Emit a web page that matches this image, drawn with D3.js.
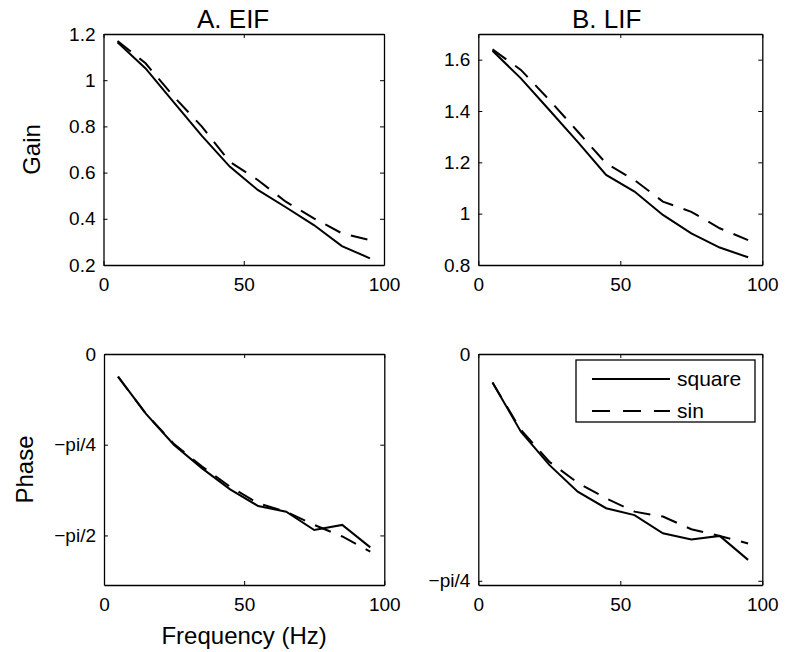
<!DOCTYPE html>
<html>
  <head>
    <meta charset="utf-8" />
    <title>EIF / LIF gain and phase</title>
    <script src="https://d3js.org/d3.v7.min.js"></script>
    <style>
      body {
        margin: 0;
        background: #fff;
        font-family: "Liberation Sans", Arial, sans-serif;
      }
      svg {
        display: block;
      }
    </style>
  </head>
  <body>
    <svg width="785" height="652"></svg>

    <script>
      // data (frequency in Hz)
      const freqs = [5, 15, 25, 35, 45, 55, 65, 75, 85, 95];

      const eifGainSquare = [1.164, 1.051, 0.905, 0.76, 0.626, 0.525, 0.45, 0.373, 0.282, 0.229];
      const eifGainSin = [1.17, 1.073, 0.93, 0.8, 0.647, 0.568, 0.474, 0.402, 0.337, 0.308];

      const lifGainSquare = [1.635, 1.527, 1.404, 1.28, 1.151, 1.086, 0.995, 0.923, 0.868, 0.83];
      const lifGainSin = [1.64, 1.56, 1.443, 1.32, 1.196, 1.131, 1.047, 1.007, 0.943, 0.897];

      const eifPhaseSquare = [-0.196, -0.519, -0.788, -0.99, -1.172, -1.316, -1.365, -1.524, -1.48, -1.674];
      const eifPhaseSin = [-0.196, -0.519, -0.78, -0.975, -1.149, -1.293, -1.365, -1.48, -1.58, -1.711];

      const lifPhaseSquare = [-0.099, -0.269, -0.384, -0.477, -0.534, -0.558, -0.621, -0.642, -0.63, -0.713];
      const lifPhaseSin = [-0.099, -0.263, -0.373, -0.446, -0.5, -0.546, -0.563, -0.607, -0.63, -0.656];

      const xTicks = [0, 50, 100];
      const phaseTicks = [0, -Math.PI / 4, -Math.PI / 2];
      const phaseTickLabels = ["0", "\u2212pi/4", "\u2212pi/2"];
      const seriesNames = ["square", "sin"];

      const svg = d3.select("svg");
      const tickFont = 19;
      const labelFont = 24;

      const panels = [
        { x0: 103.5, x1: 384, y0: 34, y1: 265, yDom: [0.2, 1.2], yTicks: [0.2, 0.4, 0.6, 0.8, 1, 1.2],
          fmt: d3.format("~g"), series: [eifGainSquare, eifGainSin], title: "A. EIF", titleX: 197, ylabel: "Gain", ylabelX: 40 },
        { x0: 478.3, x1: 762.3, y0: 34, y1: 265, yDom: [0.8, 1.7], yTicks: [0.8, 1, 1.2, 1.4, 1.6],
          fmt: d3.format("~g"), series: [lifGainSquare, lifGainSin], title: "B. LIF", titleX: 572 },
        { x0: 104, x1: 384.3, y0: 354, y1: 585, yDom: [-2, 0], yTicks: phaseTicks,
          fmt: d => phaseTickLabels[phaseTicks.indexOf(d)], series: [eifPhaseSquare, eifPhaseSin],
          ylabel: "Phase", ylabelX: 33, xlabel: "Frequency (Hz)" },
        { x0: 478.3, x1: 762.3, y0: 354, y1: 585, yDom: [-0.8, 0], yTicks: phaseTicks.slice(0, 2),
          fmt: d => phaseTickLabels[phaseTicks.indexOf(d)], series: [lifPhaseSquare, lifPhaseSin], legend: true }
      ];

      const dash = ["none", "17,11"];

      panels.forEach(p => {
        const x = d3.scaleLinear().domain([0, 100]).range([p.x0, p.x1]);
        const y = d3.scaleLinear().domain(p.yDom).range([p.y1, p.y0]);
        const g = svg.append("g");

        const styleAxis = sel => {
          sel.select(".domain").attr("stroke", "#000").attr("stroke-width", 1.3);
          sel.selectAll(".tick line").attr("stroke", "#000").attr("stroke-width", 1);
          sel.selectAll("text").attr("font-size", tickFont)
            .attr("font-family", "'Liberation Sans', Arial, sans-serif").attr("fill", "#000");
        };

        g.append("g").attr("transform", `translate(0,${p.y1})`)
          .call(d3.axisBottom(x).tickValues(xTicks).tickSize(-4).tickSizeOuter(0).tickPadding(13))
          .call(styleAxis);
        g.append("g").attr("transform", `translate(0,${p.y0})`)
          .call(d3.axisTop(x).tickValues(xTicks).tickSize(-4).tickSizeOuter(0).tickFormat(""))
          .call(styleAxis);
        g.append("g").attr("transform", `translate(${p.x0},0)`)
          .call(d3.axisLeft(y).tickValues(p.yTicks).tickSize(-4).tickSizeOuter(0).tickPadding(8).tickFormat(p.fmt))
          .call(styleAxis);
        g.append("g").attr("transform", `translate(${p.x1},0)`)
          .call(d3.axisRight(y).tickValues(p.yTicks).tickSize(-4).tickSizeOuter(0).tickFormat(""))
          .call(styleAxis);

        const line = d3.line().x((d, i) => x(freqs[i])).y(d => y(d));
        p.series.forEach((s, k) => {
          g.append("path")
            .datum(s)
            .attr("fill", "none")
            .attr("stroke", "#000")
            .attr("stroke-width", 2)
            .attr("stroke-dasharray", dash[k])
            .attr("d", line);
        });

        if (p.title) {
          g.append("text").attr("x", p.titleX).attr("y", 28)
            .attr("font-size", 26).text(p.title);
        }
        if (p.ylabel) {
          g.append("text")
            .attr("transform", `translate(${p.ylabelX},${(p.y0 + p.y1) / 2}) rotate(-90)`)
            .attr("text-anchor", "middle")
            .attr("font-size", labelFont)
            .text(p.ylabel);
        }
        if (p.xlabel) {
          g.append("text").attr("x", (p.x0 + p.x1) / 2).attr("y", 644)
            .attr("text-anchor", "middle").attr("font-size", labelFont).text(p.xlabel);
        }
        if (p.legend) {
          const lg = g.append("g");
          lg.append("rect").attr("x", 576).attr("y", 360).attr("width", 179).attr("height", 62)
            .attr("fill", "#fff").attr("stroke", "#000").attr("stroke-width", 1.3);
          seriesNames.forEach((name, k) => {
            const ly = 379 + k * 32;
            lg.append("line").attr("x1", 592).attr("x2", 670).attr("y1", ly).attr("y2", ly)
              .attr("stroke", "#000").attr("stroke-width", 2).attr("stroke-dasharray", dash[k] === "none" ? null : "18,13");
            lg.append("text").attr("x", 677).attr("y", ly + 7).attr("font-size", 21).text(name);
          });
        }
      });
    </script>
  </body>
</html>
